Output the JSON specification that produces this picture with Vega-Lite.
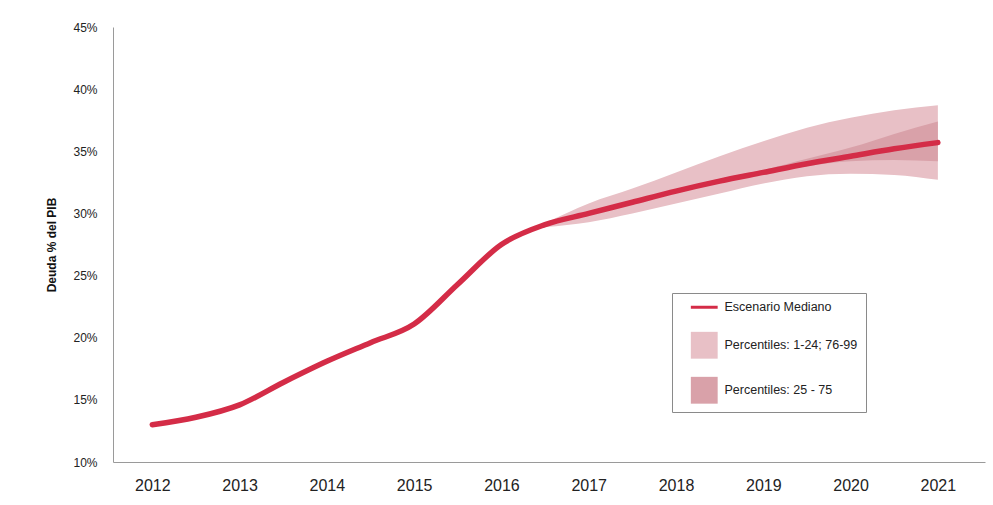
{
  "$schema": "https://vega.github.io/schema/vega-lite/v6.json",
  "width": 872,
  "height": 435,
  "autosize": {"type": "none"},
  "padding": {"left": 113, "top": 27, "right": 8, "bottom": 43},
  "background": "white",
  "config": {
    "view": {"stroke": null},
    "font": "Liberation Sans, sans-serif",
    "axis": {"labelFont": "Liberation Sans, sans-serif", "titleFont": "Liberation Sans, sans-serif"}
  },
  "datasets": {
    "mediano": [
      {"year": 2012.0, "value": 13.0},
      {"year": 2012.5, "value": 13.6},
      {"year": 2013.0, "value": 14.6},
      {"year": 2013.5, "value": 16.4},
      {"year": 2014.0, "value": 18.1},
      {"year": 2014.5, "value": 19.6},
      {"year": 2015.0, "value": 21.1},
      {"year": 2015.5, "value": 24.3},
      {"year": 2016.0, "value": 27.5},
      {"year": 2016.5, "value": 29.1},
      {"year": 2017.0, "value": 30.0},
      {"year": 2017.5, "value": 30.9},
      {"year": 2018.0, "value": 31.8},
      {"year": 2018.5, "value": 32.6},
      {"year": 2019.0, "value": 33.3},
      {"year": 2019.5, "value": 34.0},
      {"year": 2020.0, "value": 34.6},
      {"year": 2020.5, "value": 35.2},
      {"year": 2021.0, "value": 35.7}
    ],
    "bandas": [
      {"year": 2016.5, "out_lo": 28.9, "out_hi": 29.2, "in_lo": 29.0, "in_hi": 29.2},
      {"year": 2017.0, "out_lo": 29.3, "out_hi": 30.8, "in_lo": 29.9, "in_hi": 30.1},
      {"year": 2017.5, "out_lo": 30.0, "out_hi": 32.0, "in_lo": 30.8, "in_hi": 31.0},
      {"year": 2018.0, "out_lo": 30.8, "out_hi": 33.3, "in_lo": 31.7, "in_hi": 31.9},
      {"year": 2018.5, "out_lo": 31.6, "out_hi": 34.6, "in_lo": 32.5, "in_hi": 32.8},
      {"year": 2019.0, "out_lo": 32.4, "out_hi": 35.8, "in_lo": 33.2, "in_hi": 33.5},
      {"year": 2019.5, "out_lo": 33.0, "out_hi": 36.9, "in_lo": 33.8, "in_hi": 34.4},
      {"year": 2020.0, "out_lo": 33.2, "out_hi": 37.7, "in_lo": 34.2, "in_hi": 35.3},
      {"year": 2020.5, "out_lo": 33.1, "out_hi": 38.3, "in_lo": 34.3, "in_hi": 36.4},
      {"year": 2021.0, "out_lo": 32.7, "out_hi": 38.7, "in_lo": 34.2, "in_hi": 37.4}
    ]
  },
  "encoding": {
    "x": {
      "field": "year", "type": "quantitative",
      "scale": {"domain": [2011.55, 2021.54], "nice": false, "zero": false},
      "axis": {
        "title": null, "values": [2012, 2013, 2014, 2015, 2016, 2017, 2018, 2019, 2020, 2021],
        "format": "d", "ticks": false, "grid": false,
        "domainColor": "#9a9a9a", "domainWidth": 1,
        "labelFontSize": 16, "labelColor": "#222", "labelPadding": 15
      }
    }
  },
  "layer": [
    {
      "data": {"name": "bandas"},
      "mark": {"type": "area", "interpolate": "monotone", "opacity": 1},
      "encoding": {
        "y": {
          "field": "out_hi", "type": "quantitative",
          "scale": {"domain": [10, 45], "nice": false, "zero": false},
          "axis": {
            "title": "Deuda % del PIB", "values": [10, 15, 20, 25, 30, 35, 40, 45],
            "labelExpr": "datum.value + '%'", "ticks": false, "grid": false,
            "domainColor": "#9a9a9a", "domainWidth": 1,
            "labelFontSize": 12, "labelColor": "#222", "labelPadding": 16,
            "titleFontSize": 12, "titleFontWeight": "bold", "titleColor": "#111", "titlePadding": 14
          }
        },
        "y2": {"field": "out_lo"},
        "color": {"datum": "Percentiles: 1-24; 76-99"}
      }
    },
    {
      "data": {"name": "bandas"},
      "mark": {"type": "area", "interpolate": "monotone", "opacity": 1},
      "encoding": {
        "y": {"field": "in_hi", "type": "quantitative"},
        "y2": {"field": "in_lo"},
        "color": {"datum": "Percentiles: 25 - 75"}
      }
    },
    {
      "data": {"name": "mediano"},
      "mark": {"type": "line", "interpolate": "monotone", "strokeWidth": 5.5, "strokeCap": "round"},
      "encoding": {
        "y": {"field": "value", "type": "quantitative"},
        "color": {
          "datum": "Escenario Mediano",
          "scale": {
            "domain": ["Escenario Mediano", "Percentiles: 1-24; 76-99", "Percentiles: 25 - 75"],
            "range": ["#d42c47", "#e8c0c6", "#d9a1a9"]
          },
          "legend": {
            "title": null,
            "orient": "none",
            "legendX": 559,
            "legendY": 266,
            "direction": "vertical",
            "strokeColor": "#8a8a8a",
            "fillColor": "white",
            "padding": 8,
            "symbolSize": 720,
            "symbolOffset": 18,
            "rowPadding": 17,
            "labelOffset": 14,
            "labelFontSize": 12.5,
            "labelColor": "#222",
            "labelLimit": 220,
            "encode": {
              "symbols": {
                "update": {
                  "shape": {"signal": "datum.label === 'Escenario Mediano' ? 'stroke' : 'square'"},
                  "fill": {"signal": "datum.label === 'Escenario Mediano' ? 'transparent' : scale('color', datum.value)"},
                  "stroke": {"signal": "datum.label === 'Escenario Mediano' ? scale('color', datum.value) : 'transparent'"},
                  "strokeWidth": {"signal": "datum.label === 'Escenario Mediano' ? 3 : 0"},
                  "opacity": {"value": 1}
                }
              }
            }
          }
        }
      }
    }
  ]
}
